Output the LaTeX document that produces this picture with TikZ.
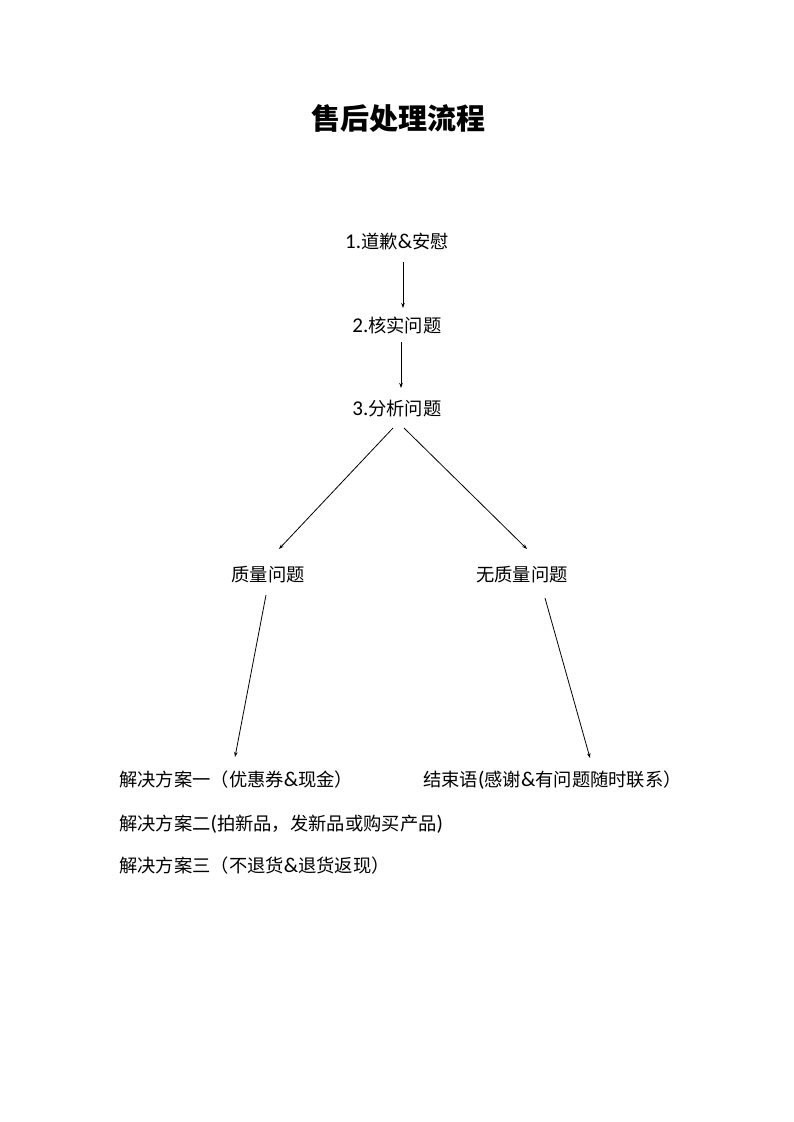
\documentclass[tikz,border=0pt]{standalone}
\usepackage{fontspec}
\usetikzlibrary{arrows.meta,calc}
\newfontfamily\cjk{Noto Sans CJK SC}
\newfontfamily\lt[Scale=1.15]{Carlito}
\newcommand{\la}[1]{{\lt #1}}
\begin{document}
\begin{tikzpicture}[x=1pt,y=-1pt,
  lbl/.style={inner sep=0pt,font=\fontsize{18.3}{20}\selectfont\cjk},
  ttl/.style={inner sep=0pt,font=\fontsize{29}{32}\selectfont\cjk\bfseries},
  conn/.style={line width=0.8pt,-{Stealth[length=5pt,width=3.5pt]}}]
\path[use as bounding box,fill=white] (0,0) rectangle (793,1122);
\node[ttl] (title) at (398,118) {售后处理流程};
\node[lbl] (n1) at (397,242) {\la{1.}道歉\la{\&}安慰};
\node[lbl] (n2) at (397,325) {\la{2.}核实问题};
\node[lbl] (n3) at (397,409) {\la{3.}分析问题};
\node[lbl] (nl) at (268,575) {质量问题};
\node[lbl] (nr) at (522,575) {无质量问题};
\node[lbl,anchor=west] (s1) at (119,780) {解决方案一（优惠券\la{\&}现金）};
\node[lbl,anchor=west] (s2) at (119,824) {解决方案二\la{(}拍新品，发新品或购买产品\la{)}};
\node[lbl,anchor=west] (s3) at (119,866) {解决方案三（不退货\la{\&}退货返现）};
\node[lbl,anchor=west] (ne) at (423,780) {结束语\la{(}感谢\la{\&}有问题随时联系）};
\draw[conn] ($(n1.center)+(6,20)$) -- ($(n2.center)+(6,-17)$);
\draw[conn] ($(n2.center)+(4,17)$) -- ($(n3.center)+(4,-21)$);
\draw[conn] ($(n3.center)+(-4,19)$) -- ($(nl.center)+(11,-26)$);
\draw[conn] ($(n3.center)+(7,19)$) -- ($(nr.center)+(5,-26)$);
\draw[conn] ($(nl.center)+(-2,20)$) -- ($(s1.west)+(116,-23)$);
\draw[conn] ($(nr.center)+(23,23)$) -- ($(ne.west)+(167,-22)$);
\end{tikzpicture}
\end{document}
